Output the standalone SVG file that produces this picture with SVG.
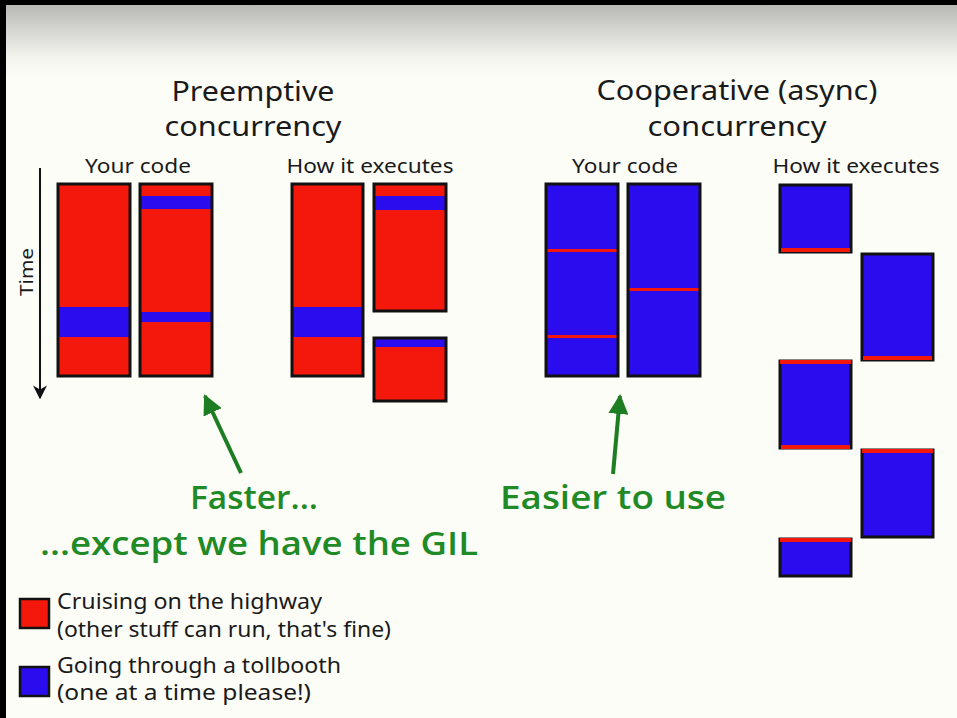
<svg xmlns="http://www.w3.org/2000/svg" width="957" height="718" viewBox="0 0 957 718">
<defs>
<linearGradient id="bg" x1="0" y1="5" x2="0" y2="80" gradientUnits="userSpaceOnUse">
<stop offset="0" stop-color="#b8b8b5"/>
<stop offset="0.7" stop-color="#f4f4ef"/>
<stop offset="1" stop-color="#fdfdf8"/>
</linearGradient>
<marker id="gh" viewBox="0 0 10 10" refX="9" refY="5" markerWidth="5" markerHeight="5" orient="auto" markerUnits="strokeWidth">
<path d="M0,0 L10,5 L0,10 z" fill="#1d7d22"/>
</marker>
<marker id="kh" viewBox="0 0 10 10" refX="9" refY="5" markerWidth="7" markerHeight="7" orient="auto" markerUnits="strokeWidth">
<path d="M0,0 L10,5 L0,10 L3,5 z" fill="#111"/>
</marker>
</defs>
<style>
.hd{font-family:"Noto Sans","Open Sans","Liberation Sans",sans-serif;fill:#1a1a1a}
.tt{font-size:28px}
.st{font-size:20px}
.gr{font-family:"Open Sans","Liberation Sans",sans-serif;fill:#1f8a26;font-weight:600;font-size:32px}
.lg{font-family:"Noto Sans","Open Sans","Liberation Sans",sans-serif;fill:#1a1a1a;font-size:21px}
.r{fill:#f4170b}
.b{fill:#2a0cef}
.bd{fill:none;stroke:#111;stroke-width:3}
.gl{stroke:#1d7d22;stroke-width:4;fill:none}
</style>
<rect x="0" y="0" width="957" height="718" fill="#000"/>
<rect x="6" y="5" width="951" height="713" fill="url(#bg)"/>

<g id="titles">
<text class="hd tt" x="253" y="101" text-anchor="middle" textLength="163" lengthAdjust="spacingAndGlyphs">Preemptive</text>
<text class="hd tt" x="253" y="136" text-anchor="middle" textLength="177" lengthAdjust="spacingAndGlyphs">concurrency</text>
<text class="hd tt" x="737" y="100" text-anchor="middle" textLength="281" lengthAdjust="spacingAndGlyphs">Cooperative (async)</text>
<text class="hd tt" x="737" y="136" text-anchor="middle" textLength="179" lengthAdjust="spacingAndGlyphs">concurrency</text>
<text class="hd st" x="138" y="173" text-anchor="middle" textLength="106" lengthAdjust="spacingAndGlyphs">Your code</text>
<text class="hd st" x="370" y="173" text-anchor="middle" textLength="167" lengthAdjust="spacingAndGlyphs">How it executes</text>
<text class="hd st" x="625" y="173" text-anchor="middle" textLength="106" lengthAdjust="spacingAndGlyphs">Your code</text>
<text class="hd st" x="856" y="173" text-anchor="middle" textLength="167" lengthAdjust="spacingAndGlyphs">How it executes</text>
</g>

<g id="time-axis">
<text class="hd" font-size="18" transform="translate(33,272) rotate(-90)" text-anchor="middle" textLength="48" lengthAdjust="spacingAndGlyphs">Time</text>
<line x1="40" y1="168" x2="40" y2="398" stroke="#111" stroke-width="2" marker-end="url(#kh)"/>
</g>

<g id="pre-code-1">
<rect class="r" x="58" y="184" width="72" height="192"/>
<rect class="b" x="58" y="307" width="72" height="30"/>
<rect class="bd" x="58" y="184" width="72" height="192"/>
</g>
<g id="pre-code-2">
<rect class="r" x="140" y="184" width="72" height="192"/>
<rect class="b" x="140" y="196" width="72" height="13"/>
<rect class="b" x="140" y="312" width="72" height="10"/>
<rect class="bd" x="140" y="184" width="72" height="192"/>
</g>
<g id="pre-exec-1">
<rect class="r" x="292" y="184" width="71" height="192"/>
<rect class="b" x="292" y="307" width="71" height="30"/>
<rect class="bd" x="292" y="184" width="71" height="192"/>
</g>
<g id="pre-exec-2a">
<rect class="r" x="374" y="184" width="72" height="127"/>
<rect class="b" x="374" y="196" width="72" height="14"/>
<rect class="bd" x="374" y="184" width="72" height="127"/>
</g>
<g id="pre-exec-2b">
<rect class="r" x="374" y="338" width="72" height="63"/>
<rect class="b" x="374" y="338" width="72" height="9"/>
<rect class="bd" x="374" y="338" width="72" height="63"/>
</g>

<g id="coop-code-1">
<rect class="b" x="546" y="184" width="72" height="192"/>
<rect class="r" x="546" y="249" width="72" height="3"/>
<rect class="r" x="546" y="335" width="72" height="3"/>
<rect class="bd" x="546" y="184" width="72" height="192"/>
</g>
<g id="coop-code-2">
<rect class="b" x="628" y="184" width="72" height="192"/>
<rect class="r" x="628" y="288" width="72" height="3"/>
<rect class="bd" x="628" y="184" width="72" height="192"/>
</g>

<g id="coop-exec-a">
<rect class="b" x="780" y="185" width="71" height="67"/>
<rect class="bd" x="780" y="185" width="71" height="67"/>
<rect class="r" x="781" y="248" width="69" height="4"/>
</g>
<g id="coop-exec-b">
<rect class="b" x="862" y="254" width="71" height="106"/>
<rect class="bd" x="862" y="254" width="71" height="106"/>
<rect class="r" x="863" y="356" width="69" height="4"/>
</g>
<g id="coop-exec-c">
<rect class="b" x="780" y="361" width="71" height="87"/>
<rect class="bd" x="780" y="361" width="71" height="87"/>
<rect class="r" x="780" y="360" width="71" height="4"/>
<rect class="r" x="781" y="445" width="69" height="4"/>
</g>
<g id="coop-exec-d">
<rect class="b" x="862" y="450" width="71" height="87"/>
<rect class="bd" x="862" y="450" width="71" height="87"/>
<rect class="r" x="862" y="449" width="71" height="4"/>
</g>
<g id="coop-exec-e">
<rect class="b" x="780" y="539" width="71" height="37"/>
<rect class="bd" x="780" y="539" width="71" height="37"/>
<rect class="r" x="780" y="538" width="71" height="4"/>
</g>

<g id="connectors">
<line class="gl" x1="241" y1="473" x2="205" y2="396" marker-end="url(#gh)"/>
<line class="gl" x1="613" y1="474" x2="620" y2="396" marker-end="url(#gh)"/>
</g>

<g id="labels">
<text class="gr" x="254" y="509" text-anchor="middle" textLength="128" lengthAdjust="spacingAndGlyphs">Faster...</text>
<text class="gr" x="259" y="555" text-anchor="middle" textLength="438" lengthAdjust="spacingAndGlyphs">...except we have the GIL</text>
<text class="gr" x="613" y="509" text-anchor="middle" textLength="226" lengthAdjust="spacingAndGlyphs">Easier to use</text>
</g>

<g id="legend-red">
<rect x="20" y="599" width="29" height="29" fill="#f4170b" stroke="#111" stroke-width="2.5"/>
<text class="lg" x="57" y="609" textLength="265" lengthAdjust="spacingAndGlyphs">Cruising on the highway</text>
<text class="lg" x="57" y="637" textLength="334" lengthAdjust="spacingAndGlyphs">(other stuff can run, that's fine)</text>
</g>
<g id="legend-blue">
<rect x="20" y="667" width="29" height="29" fill="#2a0cef" stroke="#111" stroke-width="2.5"/>
<text class="lg" x="57" y="673" textLength="284" lengthAdjust="spacingAndGlyphs">Going through a tollbooth</text>
<text class="lg" x="57" y="700" textLength="254" lengthAdjust="spacingAndGlyphs">(one at a time please!)</text>
</g>
</svg>
